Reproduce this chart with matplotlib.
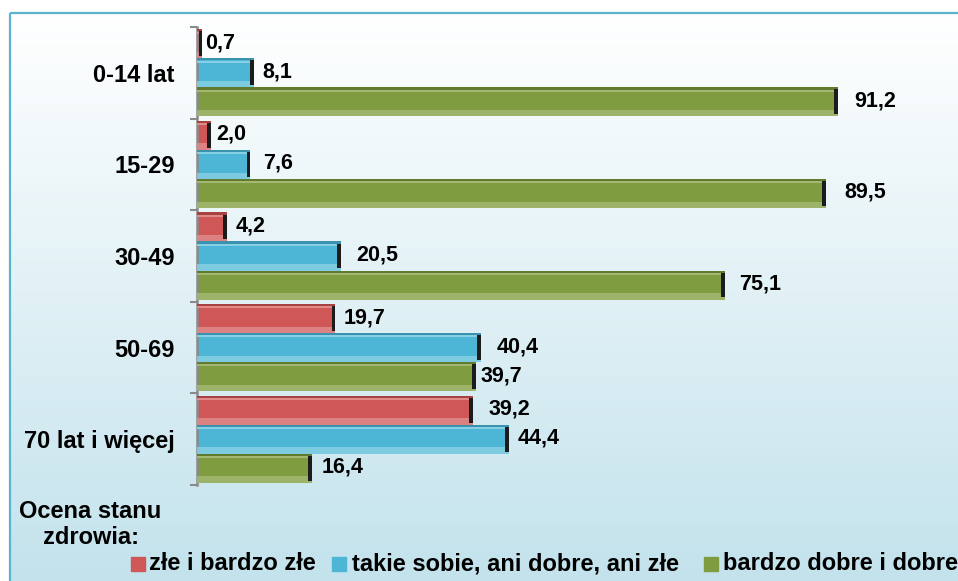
import numpy as np
import matplotlib
matplotlib.use('Agg')
import matplotlib.pyplot as plt
from matplotlib.patches import Rectangle
from matplotlib.colors import to_rgb

# ---------------- data ----------------
categories = ['0-14 lat', '15-29', '30-49', '50-69', '70 lat i więcej']
series_names = ['złe i bardzo złe', 'takie sobie, ani dobre, ani złe', 'bardzo dobre i dobre']
zle = [0.7, 2.0, 4.2, 19.7, 39.2]
srednie = [8.1, 7.6, 20.5, 40.4, 44.4]
dobre = [91.2, 89.5, 75.1, 39.7, 16.4]
legend_title_1 = 'Ocena stanu'
legend_title_2 = 'zdrowia:'

# ---------------- style ----------------
plt.rcParams['font.family'] = ['Liberation Sans', 'DejaVu Sans']
plt.rcParams['font.weight'] = 'bold'

colors = ['#cf5757', '#4db5d5', '#7f9c40']
lights = ['#e08a8a', '#86cfe4', '#a3b872']
darks = ['#a84240', '#3a93ae', '#627a2e']
label_dx = [[3, 5, 9, 8, 16], [8, 13, 15, 16, 8], [16, 18, 14, 4, 9]]

W, H = 958, 581
fig = plt.figure(figsize=(W / 100, H / 100), dpi=100)
fig.patch.set_facecolor('white')

# background gradient and border
bg = fig.add_axes([0, 0, 1, 1], zorder=-10)
bg.axis('off')
g = np.linspace(0, 1, 256)[:, None, None]
top = np.array(to_rgb('#ffffff'))
bot = np.array(to_rgb('#c2e2ec'))
img = top + (bot - top) * g
bg.imshow(img, extent=[10, W + 20, H + 10, 13], aspect='auto', interpolation='bilinear')
bg.add_patch(Rectangle((10, 13), W + 50, H + 50, fill=False, ec='#5ab4cf', lw=1.6))
bg.set_xlim(0, W)
bg.set_ylim(H, 0)

# main axes
ax = fig.add_axes([197 / W, 1 - 485 / H, (900 - 197) / W, (485 - 27) / H])
ax.patch.set_alpha(0)
ax.set_xlim(0, 100)
ax.set_ylim(4.5, -0.5)

h = 0.317
ypos = np.arange(len(categories))
offsets = [-h, 0, h]
all_series = [zle, srednie, dobre]
end_w = 0.55

for s, vals in enumerate(all_series):
    vals = np.array(vals)
    y = ypos + offsets[s]
    ax.barh(y, vals, height=h, color=colors[s], zorder=2, label=series_names[s])
    # bottom lighter band
    ax.barh(y + h / 2 - 0.035, vals, height=0.07, color=lights[s], alpha=0.85, zorder=3)
    # top darker edge + highlight line
    ax.barh(y - h / 2 + 0.012, vals, height=0.024, color=darks[s], zorder=3)
    ax.barh(y - h / 2 + 0.036, vals, height=0.022, color=lights[s], zorder=3)
    # dark right end
    ew = np.minimum(end_w, vals * 0.6)
    ax.barh(y, ew, left=vals - ew, height=h * 0.85, color='#1c1c1c', zorder=4)
    for i, v in enumerate(vals):
        ax.annotate(f'{v:.1f}'.replace('.', ','), xy=(v, y[i]), xytext=(label_dx[s][i], 1),
                    textcoords='offset pixels', ha='left', va='center',
                    fontsize=15.5, fontweight='bold', color='black', zorder=5)

ax.set_yticks(ypos)
ax.set_yticklabels(categories, fontsize=17, fontweight='bold')
ax.tick_params(axis='y', which='major', length=0, pad=16)
ax.set_yticks(np.arange(-0.5, len(categories), 1.0), minor=True)
ax.tick_params(axis='y', which='minor', length=5, width=1.5, color='#8a8a8a')
ax.set_xticks([])
for sp in ['top', 'right', 'bottom']:
    ax.spines[sp].set_visible(False)
ax.spines['left'].set_color('#8a8a8a')
ax.spines['left'].set_linewidth(1.8)

# legend
bg.text(19, 512, legend_title_1, fontsize=17, fontweight='bold', va='center', ha='left')
bg.text(43, 538, legend_title_2, fontsize=17, fontweight='bold', va='center', ha='left')
mk_x = [131, 332, 704]
tx_x = [149, 352, 723]
for s in range(3):
    bg.add_patch(Rectangle((mk_x[s], 557), 14, 14, color=colors[s]))
    bg.text(tx_x[s], 564, series_names[s], fontsize=17, fontweight='bold', va='center', ha='left')

fig.savefig('out.png', dpi=100)
